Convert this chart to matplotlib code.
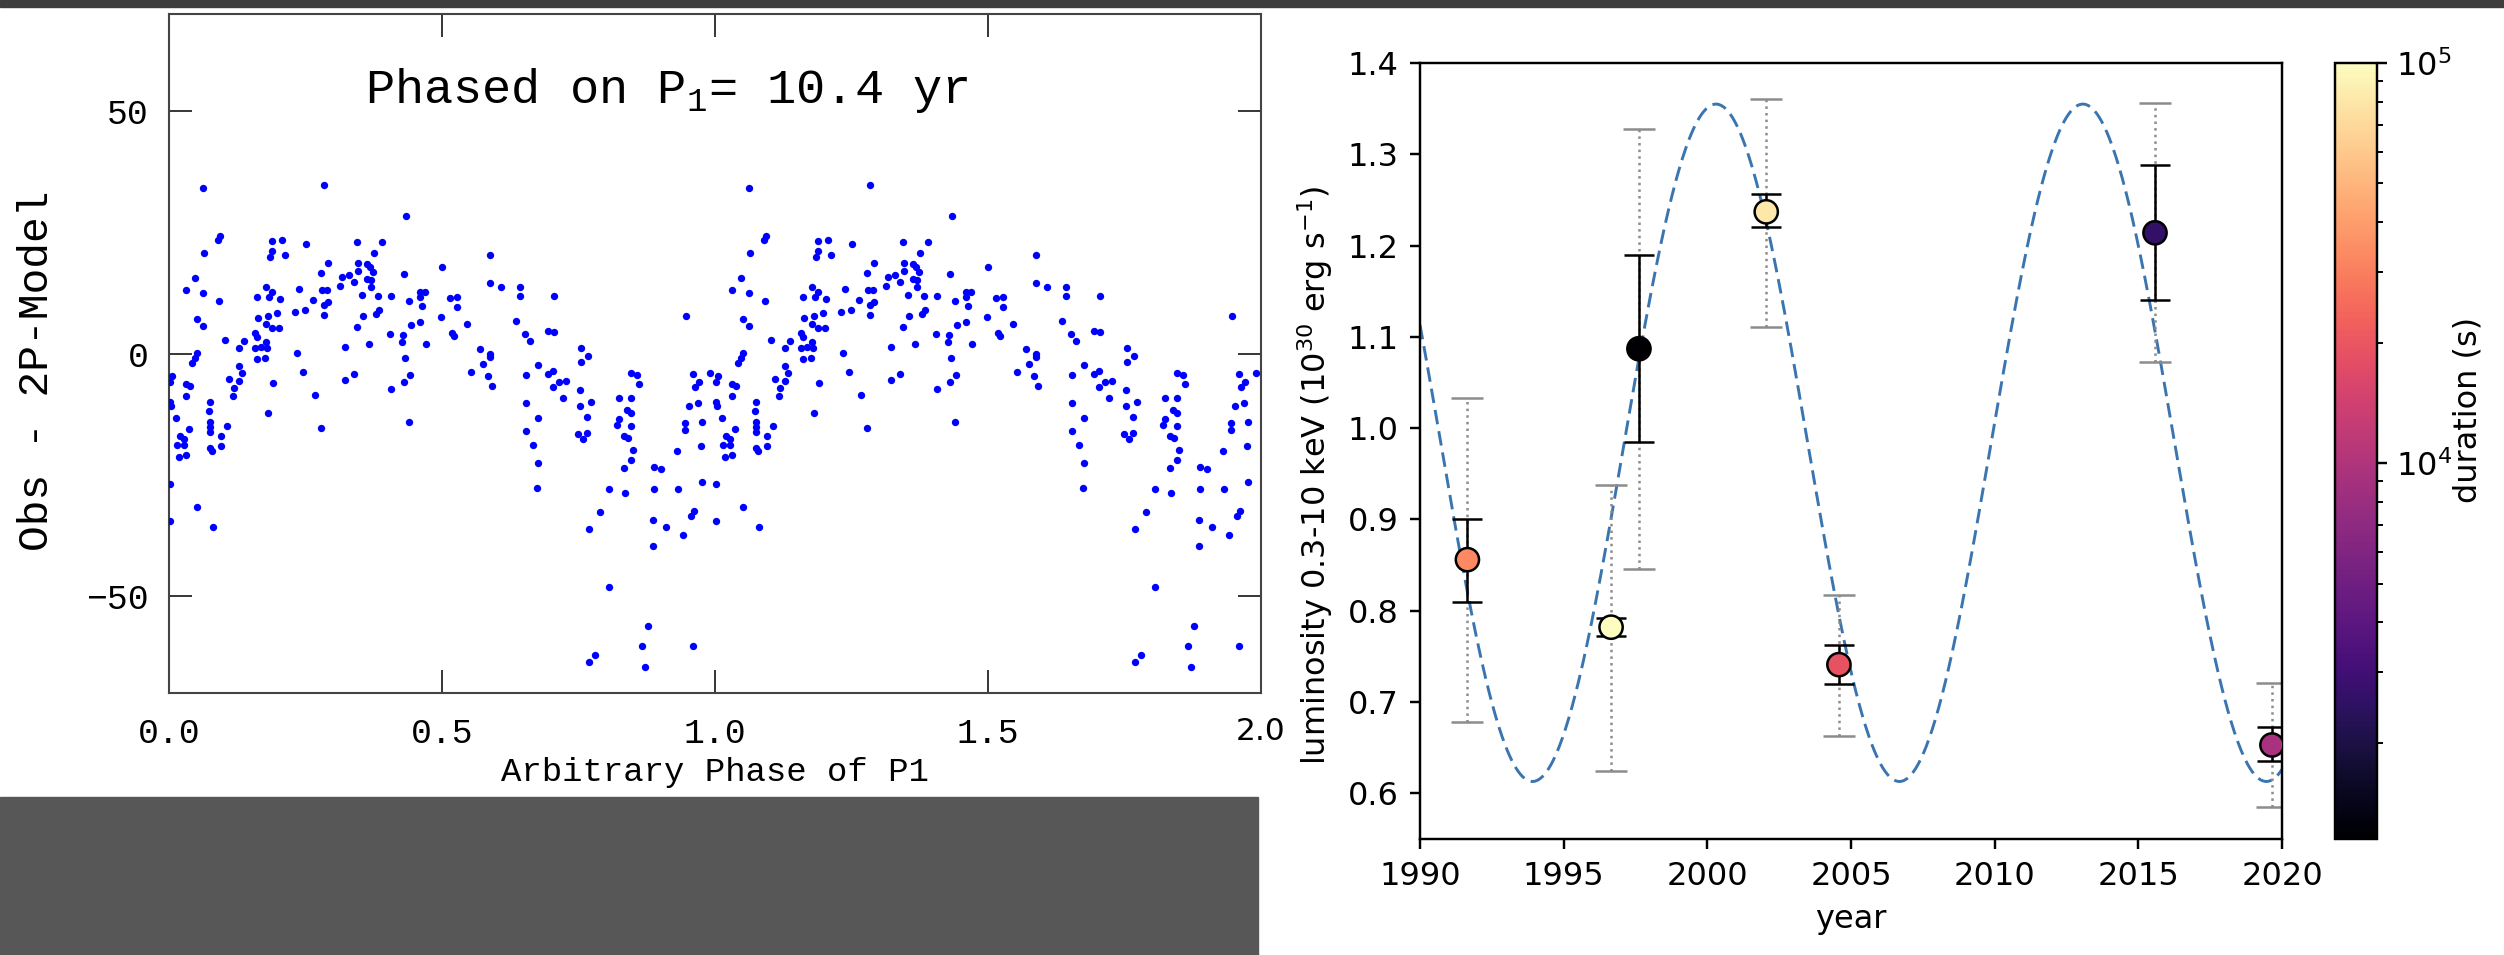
import numpy as np
import matplotlib
matplotlib.use('Agg')
import matplotlib.pyplot as plt
from matplotlib.colors import LogNorm
from matplotlib.patches import Rectangle
from matplotlib.ticker import FormatStrFormatter

W, H = 2504, 955

# left panel: O-C residuals phased on P1, one cycle (the plot shows it twice)
phase = [0.063, 0.094, 0.090, 0.065, 0.188, 0.207, 0.251, 0.189, 0.185, 0.213,
         0.048, 0.032, 0.063, 0.091, 0.177, 0.161, 0.189, 0.184, 0.204, 0.238,
         0.230, 0.249, 0.052, 0.062, 0.163, 0.181, 0.198, 0.177, 0.188, 0.202,
         0.158, 0.161, 0.103, 0.137, 0.128, 0.157, 0.178, 0.168, 0.179, 0.051,
         0.048, 0.042, 0.161, 0.175, 0.235, 0.129, 0.133, 0.246, 0.005, 0.002,
         0.109, 0.128, 0.032, 0.038, 0.119, 0.191, 0.032, 0.117, 0.002, 0.003,
         0.076, 0.073, 0.181, 0.012, 0.075, 0.076, 0.076, 0.036, 0.107, 0.021,
         0.027, 0.095, 0.015, 0.027, 0.075, 0.079, 0.095, 0.018, 0.031, 0.002,
         0.051, 0.002, 0.080,
         0.283, 0.434, 0.344, 0.391, 0.376, 0.292, 0.278, 0.347, 0.347, 0.362,
         0.368, 0.373, 0.362, 0.370, 0.370, 0.431, 0.500, 0.317, 0.330, 0.338,
         0.314, 0.280, 0.289, 0.264, 0.292, 0.283, 0.283, 0.354, 0.383, 0.407,
         0.440, 0.459, 0.469, 0.460, 0.463, 0.355, 0.379, 0.385, 0.344, 0.444,
         0.459, 0.498, 0.404, 0.429, 0.426, 0.323, 0.367, 0.471, 0.432, 0.338,
         0.322, 0.442, 0.431, 0.407, 0.267, 0.279, 0.440,
         0.587, 0.587, 0.608, 0.642, 0.642, 0.706, 0.515, 0.527, 0.527, 0.636,
         0.546, 0.518, 0.522, 0.652, 0.661, 0.695, 0.706, 0.570, 0.587, 0.587,
         0.575, 0.554, 0.585, 0.591, 0.653, 0.675, 0.695, 0.703, 0.704, 0.715,
         0.727, 0.721, 0.754, 0.754, 0.753, 0.753, 0.653, 0.675, 0.653, 0.667,
         0.675, 0.674, 0.749, 0.758,
         0.768, 0.773, 0.766, 0.766, 0.769, 0.806, 0.769, 0.781, 0.947, 0.846,
         0.858, 0.860, 0.824, 0.847, 0.838, 0.846, 0.824, 0.820, 0.846, 0.834,
         0.840, 0.850, 0.847, 0.834, 0.806, 0.835, 0.790, 0.888, 0.901, 0.888,
         0.933, 0.931, 0.886, 0.910, 0.886, 0.942, 0.960, 0.970, 0.963, 0.991,
         0.969, 0.953, 0.945, 0.945, 0.977, 0.974, 0.976, 0.962, 0.956, 0.877,
         0.867, 0.871, 0.959]
resid = [34.1, 24.3, 23.3, 20.7, 23.2, 23.3, 22.5, 21.1, 19.9, 20.3,
         15.5, 13.1, 12.4, 10.8, 13.8, 11.6, 12.7, 11.6, 11.3, 13.4,
         8.6, 9.0, 7.1, 5.6, 7.4, 7.8, 8.4, 6.0, 5.2, 5.2,
         4.3, 3.4, 2.8, 2.6, 1.2, 1.2, 2.4, 1.3, 1.2, 0.1,
         -0.9, -1.9, -1.1, -1.0, 0.1, -2.5, -4.1, -3.9, -4.7, -5.9,
         -5.2, -5.7, -6.2, -6.8, -7.1, -6.0, -8.8, -8.7, -10.0, -10.9,
         -10.0, -11.9, -12.2, -13.3, -14.2, -15.2, -16.2, -15.5, -15.0, -17.0,
         -17.6, -17.0, -18.8, -18.8, -19.4, -20.0, -19.0, -21.4, -21.0, -27.0,
         -31.7, -34.6, -35.8,
         34.8, 28.3, 22.9, 23.0, 20.8, 18.6, 16.7, 18.6, 17.1, 18.5,
         17.9, 16.8, 15.4, 15.1, 13.7, 16.4, 17.9, 15.7, 16.1, 14.7,
         14.0, 13.0, 13.0, 11.1, 10.7, 9.9, 8.0, 12.1, 11.9, 11.9,
         10.8, 12.7, 12.7, 11.6, 9.8, 7.8, 8.1, 8.9, 5.5, 5.8,
         6.4, 7.5, 4.1, 3.9, 2.3, 1.4, 1.9, 1.9, -1.0, -4.2,
         -5.4, -4.4, -5.8, -7.4, -8.5, -15.3, -14.1,
         20.4, 14.6, 13.8, 13.8, 11.8, 11.8, 11.5, 11.6, 9.6, 6.7,
         6.0, 4.2, 3.6, 4.1, 2.5, 4.7, 4.5, 1.0, -0.1, -0.7,
         -2.1, -3.9, -4.7, -6.6, -4.5, -2.3, -4.3, -3.7, -7.0, -5.8,
         -5.6, -9.1, 1.2, -1.8, -7.6, -10.8, -10.3, -13.4, -16.0, -18.8,
         -22.5, -27.8, -16.7, -17.6,
         -0.6, -10.0, -13.0, -16.3, -36.1, -48.2, -63.6, -62.1, 7.8, -4.0,
         -4.5, -6.2, -9.2, -9.2, -11.6, -12.2, -13.5, -14.8, -15.0, -17.0,
         -17.4, -19.9, -21.9, -23.7, -28.0, -28.7, -32.6, -23.4, -23.9, -27.9,
         -27.9, -20.0, -34.3, -35.8, -39.6, -37.4, -4.2, -5.9, -7.0, -4.1,
         -10.2, -10.9, -14.4, -15.7, -14.1, -19.0, -26.5, -32.4, -33.5, -56.1,
         -60.4, -64.7, -60.4]

# right panel: X-ray luminosity per epoch
year = np.array([1991.65, 1996.65, 1997.62, 2002.05, 2004.58, 2015.58, 2019.65])
lum = np.array([0.856, 0.782, 1.087, 1.237, 0.741, 1.214, 0.653])
stat_lo = np.array([0.810, 0.772, 0.985, 1.220, 0.720, 1.140, 0.635])
stat_hi = np.array([0.901, 0.792, 1.190, 1.256, 0.762, 1.288, 0.673])
sys_lo = np.array([0.678, 0.625, 0.846, 1.111, 0.663, 1.072, 0.585])
sys_hi = np.array([1.033, 0.938, 1.328, 1.361, 0.817, 1.356, 0.721])
duration = np.array([33000, 100000, 1150, 80000, 19000, 2600, 9300])

# sinusoid model drawn over the points
model_period = 12.77
model_peak = 2000.3
model_mean = 0.984
model_amp = 0.371


def box(x0, y0, x1, y1):
    # pixel box (top-left origin) -> figure fraction rect
    return [x0 / W, 1 - y1 / H, (x1 - x0) / W, (y1 - y0) / H]


fig = plt.figure(figsize=(W / 100, H / 100), dpi=100)
fig.patch.set_facecolor('white')

# ---- left panel ----
mono = 'Liberation Mono'
ax1 = fig.add_axes(box(169, 14, 1261, 693))
ph = np.array(phase)
rs = np.array(resid)
ax1.scatter(np.concatenate([ph, ph + 1]), np.concatenate([rs, rs]),
            s=28, color='#0000ff', linewidths=0, zorder=3)
ax1.set_xlim(0, 2)
ax1.set_ylim(-70, 70)
ax1.set_xticks([0, 0.5, 1.0, 1.5, 2.0])
ax1.set_yticks([-50, 0, 50])
ax1.xaxis.set_major_formatter(FormatStrFormatter('%.1f'))
ax1.tick_params(direction='in', length=16.5, width=1.1, top=True, right=True,
                labelsize=25, labelfontfamily=mono)
ax1.tick_params(axis='x', pad=17)
ax1.tick_params(axis='y', pad=14.5)
for sp in ax1.spines.values():
    sp.set_linewidth(1.5)
    sp.set_color('#444444')
# the last phase label sits past the panel edge and is set in a sans face there
fig.canvas.draw()
last = ax1.get_xticklabels()[-1]
last.set_fontfamily('DejaVu Sans')
last.set_fontsize(22.5)
ax1.text(0.456, 0.869, r'Phased on P$_\mathregular{1}$= 10.4 yr',
         transform=ax1.transAxes, ha='center', va='baseline',
         fontsize=35, family=mono)
ax1.set_xlabel('Arbitrary Phase of P1', fontsize=24.5, family=mono)
ax1.xaxis.set_label_coords(0.5, -0.094)
ax1.set_ylabel('Obs - 2P-Model', fontsize=31, family=mono)
ax1.yaxis.set_label_coords(-0.1026, 0.474)

# ---- right panel ----
ax2 = fig.add_axes(box(1420, 63, 2282, 839))
t = np.linspace(1990, 2020, 800)
ax2.plot(t, model_mean + model_amp * np.cos(2 * np.pi * (t - model_peak) / model_period),
         ls=(0, (5, 2.4)), color='#3a75b0', lw=2.1, zorder=1)
e1 = ax2.errorbar(year, lum, yerr=[lum - sys_lo, sys_hi - lum], fmt='none',
                  ecolor='#8c8c8c', elinewidth=1.8, capsize=11.5, capthick=1.8, zorder=2)
e1[2][0].set_linestyle(':')
ax2.errorbar(year, lum, yerr=[lum - stat_lo, stat_hi - lum], fmt='none',
             ecolor='black', elinewidth=1.8, capsize=10.5, capthick=1.8, zorder=3)
sc = ax2.scatter(year, lum, c=duration, cmap='magma', norm=LogNorm(vmin=1150, vmax=1e5),
                 s=280, edgecolors='black', linewidths=1.8, zorder=4)
ax2.set_xlim(1990, 2020)
ax2.set_ylim(0.55, 1.4)
ax2.set_xticks(range(1990, 2021, 5))
ax2.set_yticks(np.arange(0.6, 1.41, 0.1))
ax2.yaxis.set_major_formatter(FormatStrFormatter('%.1f'))
ax2.tick_params(labelsize=23, length=7.5, width=1.75, pad=8)
for sp in ax2.spines.values():
    sp.set_linewidth(1.75)
ax2.set_xlabel('year', fontsize=23, labelpad=9)
ax2.set_ylabel('luminosity 0.3-10 keV (10$^{30}$ erg s$^{-1}$)', fontsize=23)
ax2.yaxis.set_label_coords(-0.0986, 0.468)

cax = fig.add_axes(box(2335, 63, 2377, 839))
cb = fig.colorbar(sc, cax=cax)
cb.outline.set_linewidth(1.75)
cax.tick_params(which='major', labelsize=23, length=7.5, width=1.75, pad=6)
cax.tick_params(which='minor', length=4.5, width=1.4)
cb.set_label('duration (s)', fontsize=23)
cax.yaxis.set_label_coords(2.8, 0.553)

# page framing around the two panels
fig.patches.extend([
    Rectangle((0, 1 - 7 / H), 1, 7 / H, transform=fig.transFigure,
              color='#3d3d3d', zorder=10),
    Rectangle((0, 0), 1258 / W, 158 / H, transform=fig.transFigure,
              color='#575757', zorder=10),
])

fig.savefig('out.png', dpi=100)
